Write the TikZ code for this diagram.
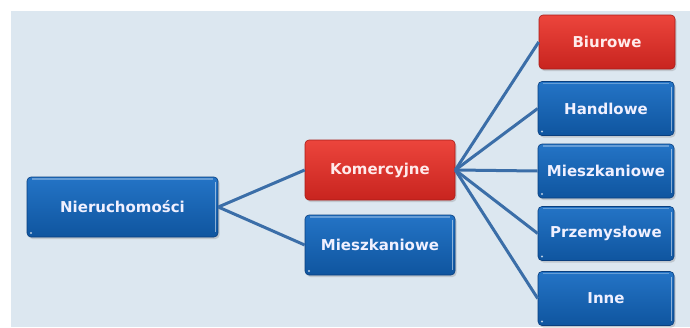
\documentclass[tikz,border=0pt]{standalone}
\usepackage{fontspec}
\setmainfont{DejaVu Sans}
\usetikzlibrary{shadows}
\definecolor{bgpanel}{HTML}{DCE7F0}
\definecolor{bluetop}{HTML}{2474C6}
\definecolor{bluebot}{HTML}{0F559F}
\definecolor{blueedge}{HTML}{0A3F7E}
\definecolor{redtop}{HTML}{EC453C}
\definecolor{redbot}{HTML}{C8241F}
\definecolor{rededge}{HTML}{A81C18}
\definecolor{linkcol}{HTML}{3B6EA8}
\tikzset{
  basebox/.style={rectangle, rounded corners=4pt, inner sep=0pt,
    font=\bfseries\fontsize{15}{18}\selectfont,
    drop shadow={shadow xshift=1.5pt, shadow yshift=-2pt, opacity=0.3}},
  bluebox/.style={basebox, text={white!94!blue}, top color=bluetop, bottom color=bluebot, draw=blueedge, line width=0.6pt,
    path picture={\draw[white, opacity=0.5, line width=1.5pt]
      ([xshift=-2.5pt,yshift=-5pt]path picture bounding box.north east) --
      ([xshift=-2.5pt,yshift=5pt]path picture bounding box.south east);
      \draw[white, opacity=0.3, line width=1.5pt]
      ([xshift=5pt,yshift=-2pt]path picture bounding box.north west) --
      ([xshift=-5pt,yshift=-2pt]path picture bounding box.north east);
      \fill[white, opacity=0.7] ([xshift=4pt,yshift=4pt]path picture bounding box.south west) circle (1.2pt);}},
  redbox/.style={basebox, text={white!92!red}, top color=redtop, bottom color=redbot, draw=rededge, line width=0.6pt},
  leftsize/.style={minimum width=191pt, minimum height=60pt},
  midsize/.style={minimum width=150pt, minimum height=60pt},
  rightsize/.style={minimum width=136pt, minimum height=54pt},
  link/.style={draw=linkcol, line width=3pt}
}
\begin{document}
\begin{tikzpicture}[x=1pt,y=-1pt]
\useasboundingbox (0,0) rectangle (690,327);
\fill[white] (0,0) rectangle (690,327);
\fill[bgpanel] (11,11) rectangle (690,327);

\node[bluebox, leftsize] (nier) at (122.5,207) {Nieruchomości};
\node[redbox, midsize] (kom) at (380,170) {Komercyjne};
\node[bluebox, midsize] (mies) at (380,245) {Mieszkaniowe};

\node[redbox, rightsize] (biu) at (607,42) {Biurowe};
\node[bluebox, rightsize] (han) at (606,108.5) {Handlowe};
\node[bluebox, rightsize] (mies2) at (606,171) {Mieszkaniowe};
\node[bluebox, rightsize] (prz) at (606,233.5) {Przemysłowe};
\node[bluebox, rightsize] (inne) at (606,298.5) {Inne};

\draw[link] (nier.east) -- (kom.west);
\draw[link] (nier.east) -- (mies.west);
\draw[link] (kom.east) -- (biu.west);
\draw[link] (kom.east) -- (han.west);
\draw[link] (kom.east) -- (mies2.west);
\draw[link] (kom.east) -- (prz.west);
\draw[link] (kom.east) -- (inne.west);
\end{tikzpicture}
\end{document}
